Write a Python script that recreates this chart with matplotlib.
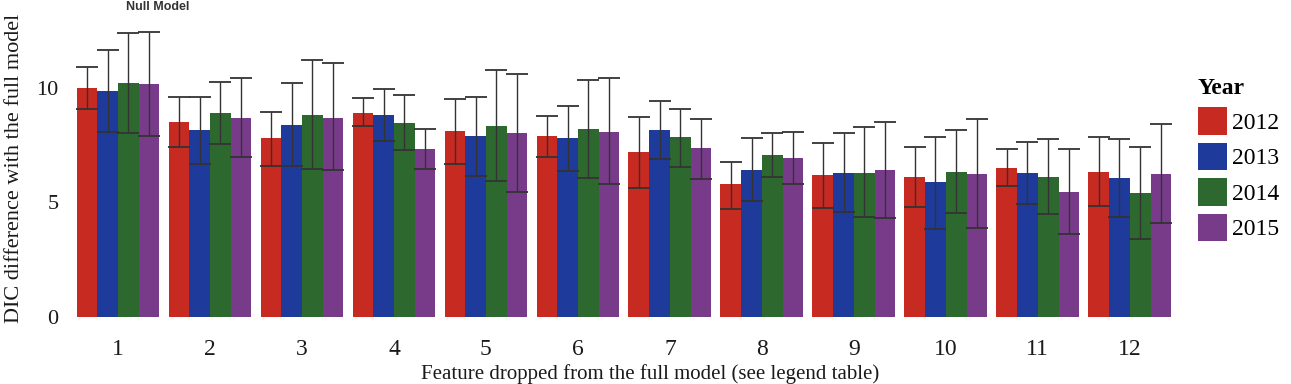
import matplotlib
matplotlib.use("Agg")
import matplotlib.pyplot as plt
import numpy as np

features = [str(i) for i in range(1, 13)]
years = ["2012", "2013", "2014", "2015"]

# bar heights per year (DIC difference)
v2012 = [9.99, 8.50, 7.80, 8.92, 8.12, 7.90, 7.19, 5.79, 6.20, 6.13, 6.49, 6.35]
v2013 = [9.87, 8.17, 8.38, 8.82, 7.90, 7.80, 8.17, 6.42, 6.27, 5.88, 6.27, 6.08]
v2014 = [10.20, 8.89, 8.82, 8.48, 8.34, 8.20, 7.85, 7.07, 6.30, 6.35, 6.13, 5.40]
v2015 = [10.16, 8.68, 8.70, 7.34, 8.02, 8.09, 7.37, 6.96, 6.42, 6.24, 5.47, 6.24]

# error bar ends (upper / lower)
up2012 = [10.93, 9.62, 8.97, 9.58, 9.52, 8.79, 8.75, 6.78, 7.61, 7.44, 7.32, 7.85]
lo2012 = [9.07, 7.41, 6.61, 8.34, 6.68, 6.97, 5.62, 4.72, 4.77, 4.82, 5.73, 4.86]
up2013 = [11.66, 9.62, 10.20, 9.94, 9.62, 9.21, 9.45, 7.80, 8.02, 7.87, 7.66, 7.77]
lo2013 = [8.09, 6.68, 6.61, 7.70, 6.17, 6.39, 6.89, 5.08, 4.57, 3.84, 4.93, 4.35]
up2014 = [12.39, 10.25, 11.22, 9.69, 10.79, 10.35, 9.08, 8.02, 8.31, 8.17, 7.77, 7.44]
lo2014 = [8.05, 7.55, 6.45, 7.29, 5.95, 6.05, 6.56, 6.10, 4.35, 4.53, 4.50, 3.39]
up2015 = [12.46, 10.42, 11.08, 8.21, 10.61, 10.45, 8.66, 8.09, 8.53, 8.63, 7.34, 8.41]
lo2015 = [7.92, 6.97, 6.42, 6.46, 5.44, 5.81, 6.01, 5.81, 4.31, 3.87, 3.62, 4.09]

values = [v2012, v2013, v2014, v2015]
uppers = [up2012, up2013, up2014, up2015]
lowers = [lo2012, lo2013, lo2014, lo2015]
colors = ["#C62A20", "#1E3B9C", "#2D682F", "#783B8A"]

plt.rcParams["font.family"] = ["Liberation Serif", "DejaVu Serif"]

fig = plt.figure(figsize=(12.91, 3.84), dpi=100)
ax = fig.add_axes([62.8 / 1291, (384 - 331) / 384, (1185 - 62.8) / 1291, (331 - 18) / 384])

x = np.arange(1, len(features) + 1)
w = 0.225
handles = []
for i, (yr, vals, ups, los, c) in enumerate(zip(years, values, uppers, lowers, colors)):
    xs = x + (i - 1.5) * w
    vals = np.array(vals)
    yerr = np.vstack([vals - np.array(los), np.array(ups) - vals])
    b = ax.bar(xs, vals, width=w, color=c, edgecolor="none", label=yr, zorder=2)
    ax.errorbar(xs, vals, yerr=yerr, fmt="none", ecolor="#333333", elinewidth=1.0,
                capsize=8, capthick=1.3, zorder=3)
    handles.append(b)

ax.set_xlim(0.4, 12.6)
ax.set_ylim(-0.62, 13.06)
ax.set_xticks(x)
ax.set_xticklabels(features, fontsize=17)
ax.set_yticks([0, 5, 10])
ax.set_yticklabels(["0", "5", "10"], fontsize=16)
ax.tick_params(axis="both", length=0, colors="#1a1a1a")
ax.tick_params(axis="x", pad=6)
ax.tick_params(axis="y", pad=3)
for s in ax.spines.values():
    s.set_visible(False)

fig.text(15 / 1291, (384 - 168) / 384, "DIC difference with the full model", rotation=90,
         ha="center", va="center", fontsize=16, color="#1a1a1a")
fig.text(650 / 1291, (384 - 364) / 384, "Feature dropped from the full model (see legend table)",
         ha="center", va="top", fontsize=15, color="#1a1a1a")
fig.text(158 / 1291, (384 - 7) / 384, "Null Model", ha="center", va="center", fontsize=9,
         family=["Liberation Sans", "DejaVu Sans"], fontweight="bold", color="#333333")

leg = fig.legend(handles=handles, labels=years, loc="upper left",
                 bbox_to_anchor=(1198 / 1291, (384 - 78) / 384), frameon=False,
                 fontsize=17, title="Year", title_fontproperties={"weight": "bold", "size": 17},
                 handlelength=1.23, handleheight=1.4, handletextpad=0.2, labelspacing=0.35,
                 borderpad=0, borderaxespad=0, alignment="left")

fig.savefig("out.png", dpi=100)
